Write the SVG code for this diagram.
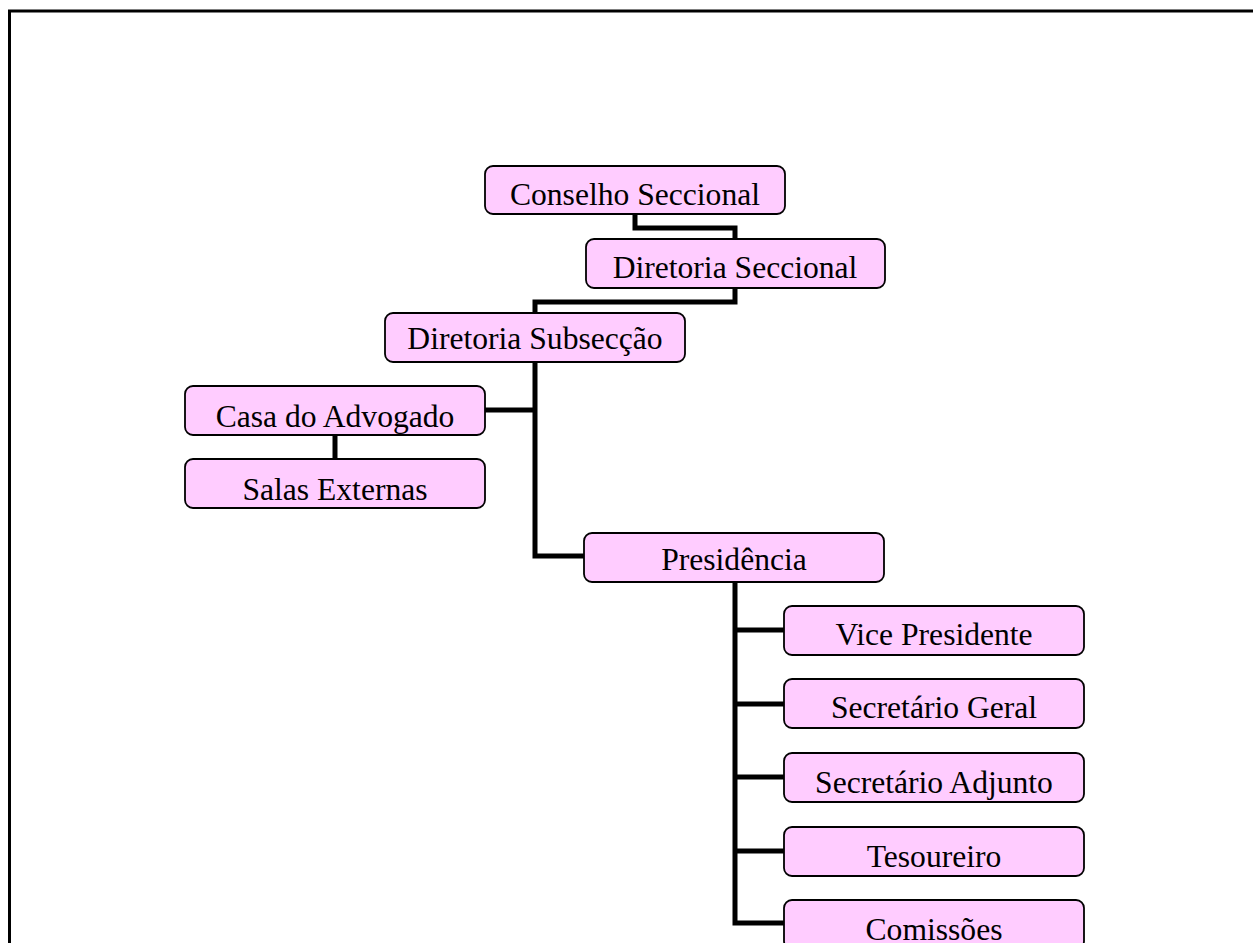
<svg xmlns="http://www.w3.org/2000/svg" width="1253" height="943" viewBox="0 0 1253 943">
<style>
.box{fill:#FFCCFF;stroke:#000;stroke-width:1.8}
.lbl{font-family:"Liberation Serif","Times New Roman",serif;font-size:31.6px;fill:#000;text-anchor:middle}
.con{fill:none;stroke:#000;stroke-width:5;stroke-linejoin:miter;stroke-linecap:butt}
</style>
<rect x="0" y="0" width="1253" height="943" fill="#fff"/>
<path d="M9.5,943 V11 H1253" fill="none" stroke="#000" stroke-width="3"/>
<g id="connectors">
<path class="con" d="M635,214 V228 H735 V239"/>
<path class="con" d="M735,288 V302 H535 V313"/>
<path class="con" d="M535,362 V556 H584"/>
<path class="con" d="M485,410 H535"/>
<path class="con" d="M335,435 V459"/>
<path class="con" d="M735,582 V923 H784"/>
<path class="con" d="M735,630 H784"/>
<path class="con" d="M735,704 H784"/>
<path class="con" d="M735,777 H784"/>
<path class="con" d="M735,851 H784"/>
</g>
<g id="conselho-seccional"><rect class="box" x="485" y="166" width="300" height="48" rx="8"/><text class="lbl" x="635" y="205">Conselho Seccional</text></g>
<g id="diretoria-seccional"><rect class="box" x="586" y="239" width="299" height="49" rx="8"/><text class="lbl" x="735" y="278">Diretoria Seccional</text></g>
<g id="diretoria-subseccao"><rect class="box" x="385" y="313" width="300" height="49" rx="8"/><text class="lbl" x="535" y="349">Diretoria Subsecção</text></g>
<g id="casa-advogado"><rect class="box" x="185" y="386" width="300" height="49" rx="8"/><text class="lbl" x="335" y="427">Casa do Advogado</text></g>
<g id="salas-externas"><rect class="box" x="185" y="459" width="300" height="49" rx="8"/><text class="lbl" x="335" y="500">Salas Externas</text></g>
<g id="presidencia"><rect class="box" x="584" y="533" width="300" height="49" rx="8"/><text class="lbl" x="734" y="570">Presidência</text></g>
<g id="vice-presidente"><rect class="box" x="784" y="606" width="300" height="49" rx="8"/><text class="lbl" x="934" y="645">Vice Presidente</text></g>
<g id="secretario-geral"><rect class="box" x="784" y="679" width="300" height="49" rx="8"/><text class="lbl" x="934" y="718">Secretário Geral</text></g>
<g id="secretario-adjunto"><rect class="box" x="784" y="753" width="300" height="49" rx="8"/><text class="lbl" x="934" y="793">Secretário Adjunto</text></g>
<g id="tesoureiro"><rect class="box" x="784" y="827" width="300" height="49" rx="8"/><text class="lbl" x="934" y="867">Tesoureiro</text></g>
<g id="comissoes"><rect class="box" x="784" y="900" width="300" height="49" rx="8"/><text class="lbl" x="934" y="940">Comissões</text></g>
</svg>
